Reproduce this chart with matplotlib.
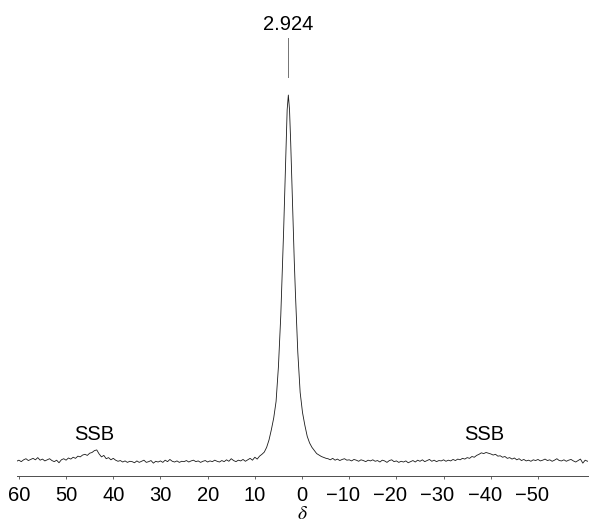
import numpy as np
import matplotlib
matplotlib.use("Agg")
import matplotlib.pyplot as plt
from matplotlib.transforms import ScaledTranslation

plt.rcParams['font.family'] = ['Liberation Sans', 'DejaVu Sans']
plt.rcParams['mathtext.fontset'] = 'stix'

# --- spectrum (intensity: baseline 0, main peak 100) ---
# left baseline, delta 60.5 -> 8.5 in 0.5 ppm steps (includes the low-field SSB)
left_start = 60.5
left_vals = [0.2, 0.5, 0.1, 0.6, 0.9, 0.4, 0.7, 1.0, 0.6, 1.2,
             0.5, 0.8, 0.3, 0.6, 0.9, 0.4, 0.1, 0.5, -0.2, 0.6,
             0.9, 0.5, 1.1, 0.8, 1.3, 1.0, 1.6, 1.4, 1.9, 2.1,
             1.8, 2.4, 2.6, 3.1, 3.3, 2.2, 1.4, 1.8, 0.9, 1.2,
             0.6, 1.0, 0.5, 0.2, 0.4, 0.0, 0.3, -0.1, 0.2, 0.1,
             -0.2, 0.3, -0.1, 0.2, 0.5, -0.1, 0.1, 0.4, -0.3, 0.2,
             0.0, 0.3, -0.1, 0.5, 0.1, 0.7, 0.2, 0.0, 0.3, -0.1,
             0.2, 0.1, 0.4, 0.0, 0.3, 0.5, 0.1, 0.3, -0.1, 0.2,
             0.4, 0.0, 0.3, 0.1, 0.5, 0.2, 0.0, 0.4, 0.1, 0.6,
             0.2, 0.9, 0.4, 0.1, 0.5, 0.3, 0.7, 0.2, 0.6, 1.0,
             0.5, 1.3, 0.8, 1.6, 2.1]

# main resonance around 2.924 ppm
peak_delta = [8.0, 7.5, 7.0, 6.5, 6.0, 5.5, 5.0, 4.5, 4.15, 3.9, 3.65, 3.4, 3.15,
              2.9, 2.65, 2.4, 2.15, 1.9, 1.65, 1.4, 0.9, 0.4, -0.1, -0.6, -1.1,
              -1.6, -2.1, -3.1, -4.1, -5.1]
peak_vals = [2.7, 4.0, 6.0, 8.8, 12.0, 16.5, 26.0, 40.0, 53.0, 63.0, 74.0, 86.0, 96.0,
             100.0, 96.0, 87.0, 76.0, 65.0, 55.0, 46.0, 30.0, 19.0, 13.5, 10.0, 7.0,
             5.2, 4.0, 2.3, 1.5, 1.0]

# right baseline, delta -5.5 -> -61.0 in 0.5 ppm steps (includes the high-field SSB)
right_start = -5.5
right_vals = [0.9, 0.6, 1.0, 0.5, 0.8, 0.4, 0.7, 0.9, 0.5, 0.6,
              0.3, 0.7, 0.5, 0.2, 0.6, 0.4, 0.1, 0.5, 0.3, 0.6,
              0.2, 0.4, 0.0, 0.5, 0.3, -0.1, 0.4, 0.6, 0.1, 0.3,
              -0.1, 0.2, 0.0, 0.3, -0.2, 0.1, 0.4, 0.0, 0.5, 0.2,
              0.6, 0.1, 0.4, 0.7, 0.2, 0.5, 0.1, 0.4, 0.3, 0.6,
              0.2, 0.5, 0.3, 0.7, 0.4, 0.8, 0.6, 1.0, 0.8, 1.2,
              1.0, 1.5, 1.3, 1.8, 2.1, 2.5, 2.3, 2.6, 2.4, 2.2,
              1.9, 2.1, 1.6, 1.7, 1.3, 1.5, 1.0, 1.2, 0.8, 1.1,
              0.6, 0.9, 0.4, 0.7, 0.3, 0.5, 0.2, 0.6, 0.4, 0.7,
              0.3, 0.5, 0.8, 0.4, 0.6, 0.2, 0.5, 0.9, 0.4, 0.3,
              0.6, 0.2, 0.5, 0.7, 0.3, 0.0, 0.4, 0.8, -0.3, 0.5,
              0.2, 0.4]

peak_label = "2.924"
peak_pos = 2.924
ssb_pos = [44.1, -38.6]
xticks = [60, 50, 40, 30, 20, 10, 0, -10, -20, -30, -40, -50]

left_delta = left_start - 0.5 * np.arange(len(left_vals))
right_delta = right_start - 0.5 * np.arange(len(right_vals))
delta = np.concatenate([left_delta, peak_delta, right_delta])
inten = np.concatenate([left_vals, peak_vals, right_vals])

fig = plt.figure(figsize=(5.9, 5.25), dpi=100)
ax = fig.add_axes([17 / 590, 49 / 525, 571 / 590, 476 / 525])

ax.plot(delta, inten, color='0.1', lw=0.6)

# peak marker
ax.plot([peak_pos, peak_pos], [104.9, 115.5], color='0.45', lw=0.7)
ax.text(peak_pos, 119.2, peak_label, ha='center', va='center', fontsize=14.5)

for p in ssb_pos:
    ax.text(p, 7.4, "SSB", ha='center', va='center', fontsize=14.5)

ax.set_xlim(60.4, -60.6)
ax.set_ylim(-3.81, 125.9)
ax.set_xticks(xticks)
ax.set_xticklabels([str(t).replace('-', '\u2212') for t in xticks])
ax.tick_params(axis='x', length=2, width=0.6, color='0.3', labelsize=14.5, pad=5)
ax.set_yticks([])
for s in ['left', 'right', 'top']:
    ax.spines[s].set_visible(False)
ax.spines['bottom'].set_color('0.3')
ax.spines['bottom'].set_linewidth(0.7)
ax.set_xlabel(r'$\delta$', fontsize=14, labelpad=1)

# digits sit on the tick, the minus sign hangs to the left
shift = ScaledTranslation(-4.4 / 72, 0, fig.dpi_scale_trans)
for lbl, t in zip(ax.get_xticklabels(), xticks):
    if t < 0:
        lbl.set_transform(lbl.get_transform() + shift)

fig.savefig("out.png", dpi=100)
